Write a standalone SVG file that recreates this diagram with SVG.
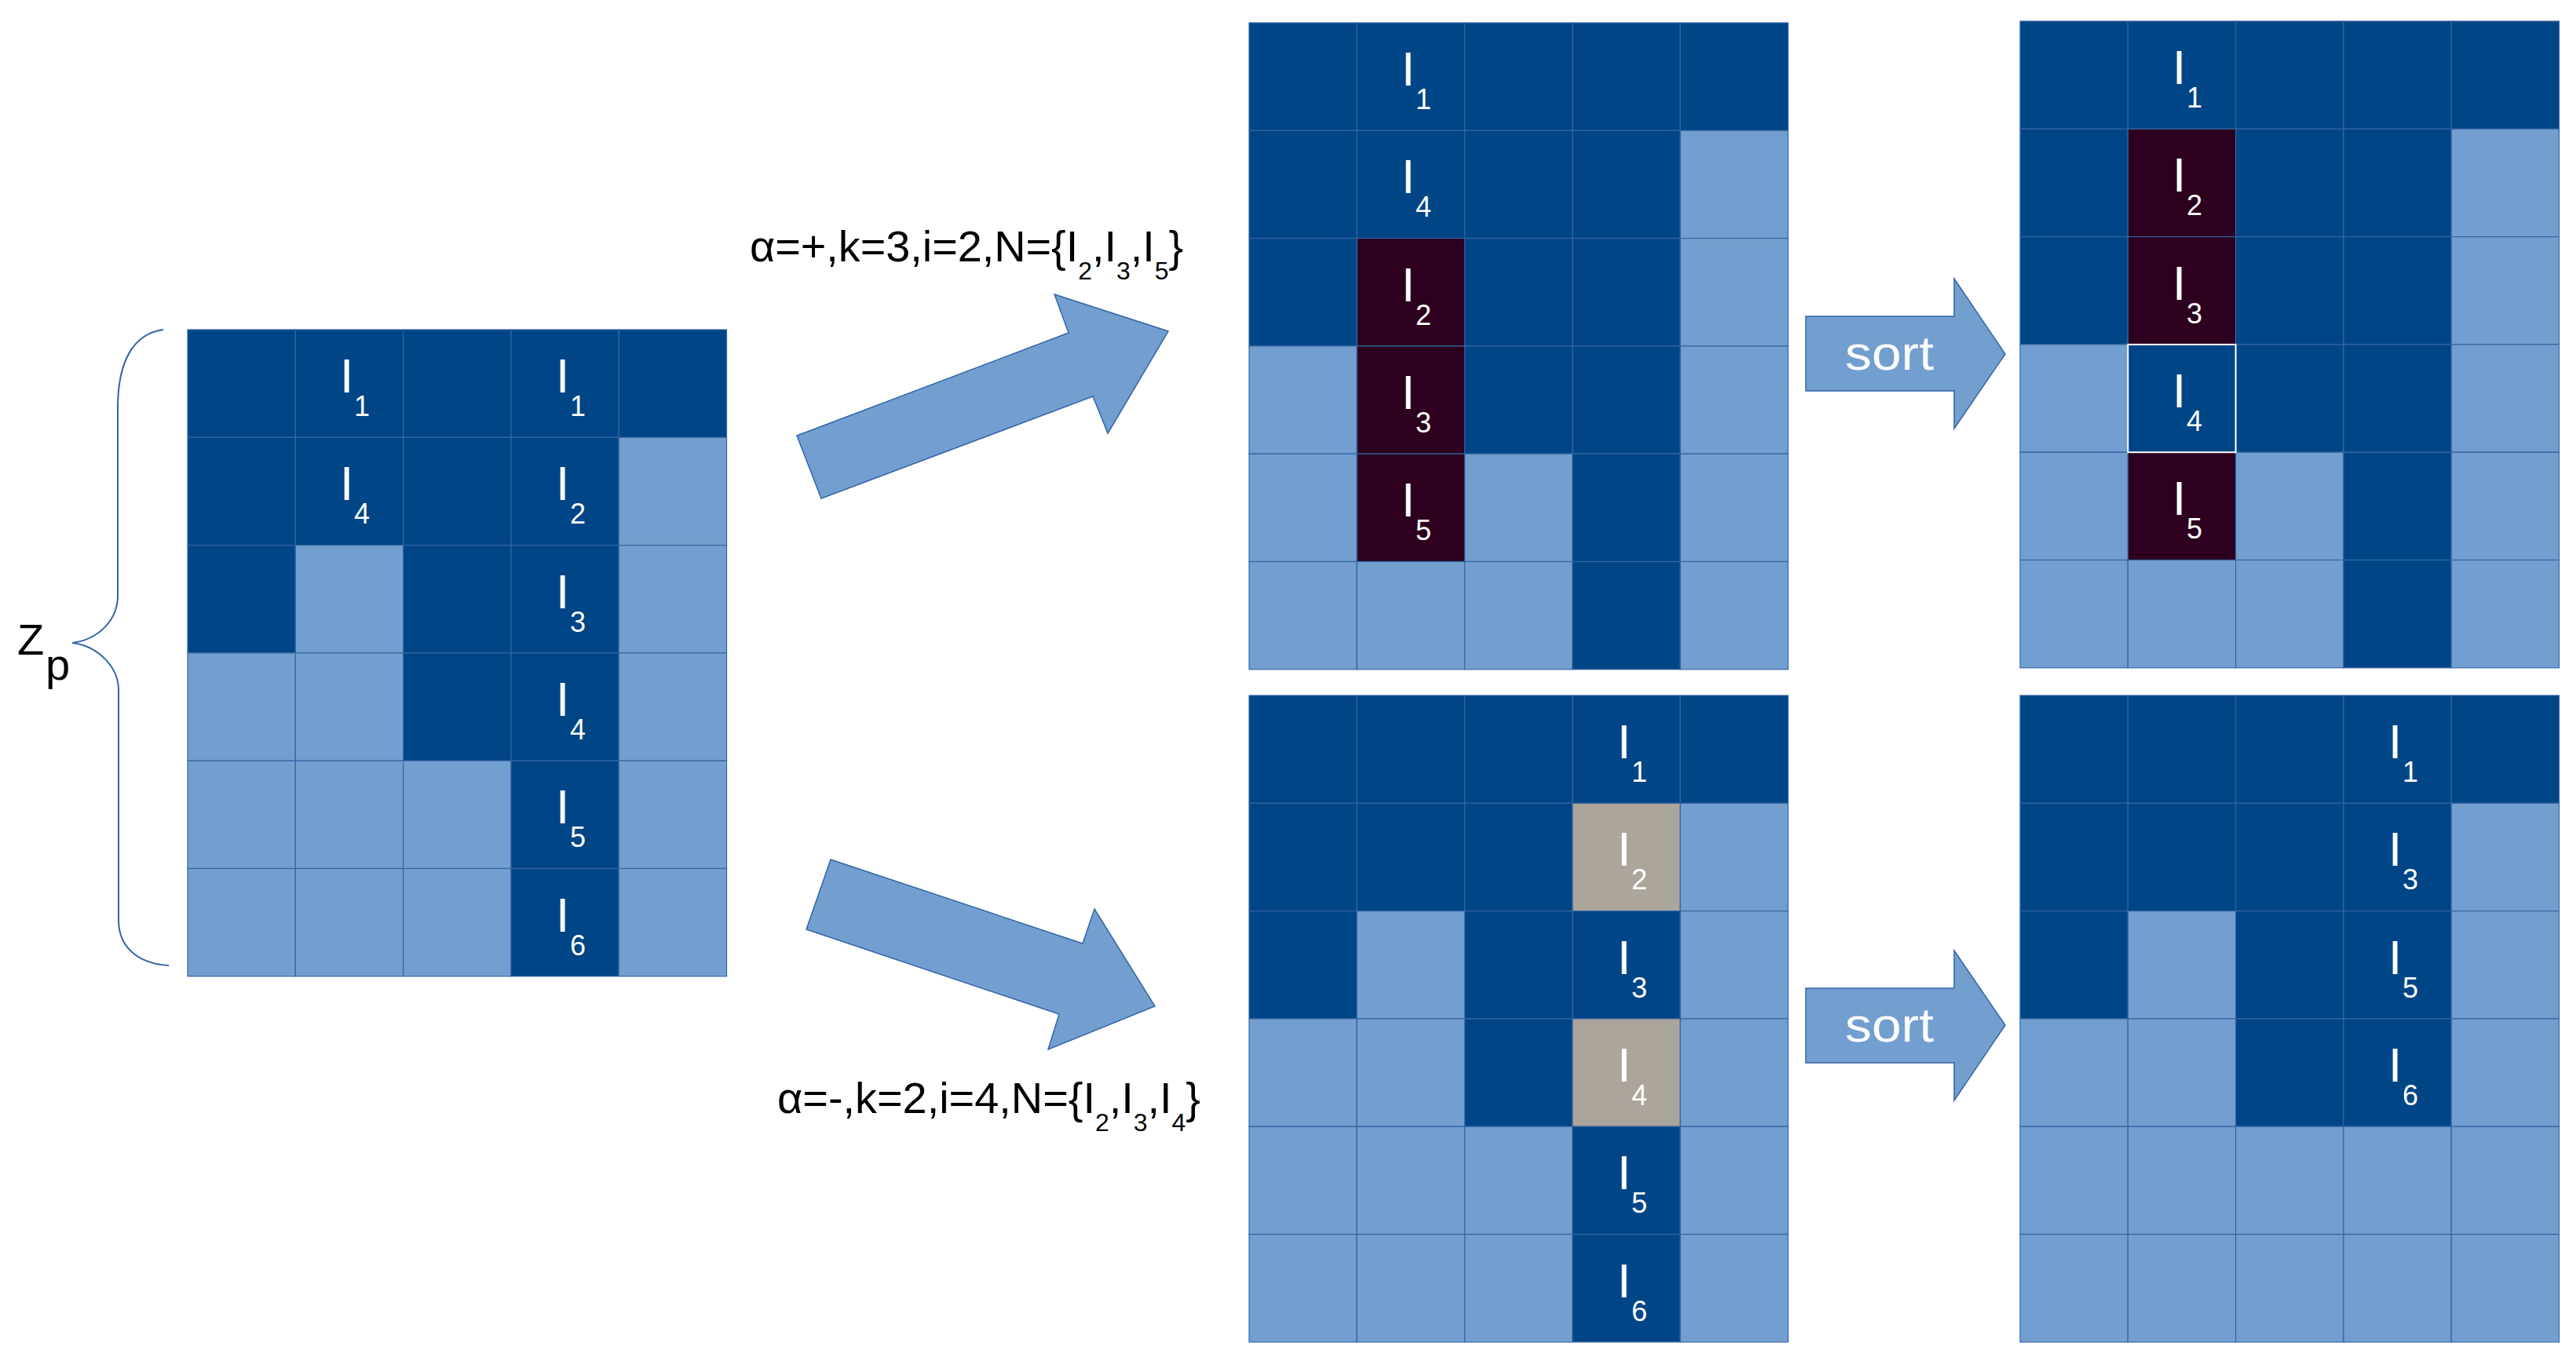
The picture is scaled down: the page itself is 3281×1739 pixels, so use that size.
<svg xmlns="http://www.w3.org/2000/svg" width="3281" height="1739" viewBox="0 0 3281 1739">
<style>
.d{fill:#004586;stroke:#3465a4;stroke-width:1.2}
.l{fill:#729fcf;stroke:#3465a4;stroke-width:1.2}
.m{fill:#2c001e;stroke:#3465a4;stroke-width:1.2}
.g{fill:#aca59c;stroke:#3465a4;stroke-width:1.2}
.lb{font-family:"Liberation Sans",Arial,sans-serif;fill:#fff;font-size:62px}
.sb{font-size:36px}
.ar{fill:#729fcf;stroke:#3465a4;stroke-width:1.5}
.tx{font-family:"Liberation Sans",Arial,sans-serif;fill:#000;font-size:56px}
.ts{font-size:32px}
</style>
<g id="brace">
<path d="M208,420 C170,425 150,460 150,520 L150,759 C150,790 125,815 92,819 C125,823 151,850 151,879 L151,1172 C151,1210 180,1228 215,1230" fill="none" stroke="#3465a4" stroke-width="2"/>
<text class="tx" x="22" y="834" font-size="58">Z</text>
<text class="tx" x="58" y="866" font-size="34">p</text>
</g>
<g id="grid_zp" transform="translate(239,420)">
<rect class="d" x="0" y="0" width="137.3" height="137.3"/><rect class="d" x="137.3" y="0" width="137.3" height="137.3"/><rect class="d" x="274.6" y="0" width="137.3" height="137.3"/><rect class="d" x="411.9" y="0" width="137.3" height="137.3"/><rect class="d" x="549.2" y="0" width="137.3" height="137.3"/>
<rect class="d" x="0" y="137.3" width="137.3" height="137.3"/><rect class="d" x="137.3" y="137.3" width="137.3" height="137.3"/><rect class="d" x="274.6" y="137.3" width="137.3" height="137.3"/><rect class="d" x="411.9" y="137.3" width="137.3" height="137.3"/><rect class="l" x="549.2" y="137.3" width="137.3" height="137.3"/>
<rect class="d" x="0" y="274.6" width="137.3" height="137.3"/><rect class="l" x="137.3" y="274.6" width="137.3" height="137.3"/><rect class="d" x="274.6" y="274.6" width="137.3" height="137.3"/><rect class="d" x="411.9" y="274.6" width="137.3" height="137.3"/><rect class="l" x="549.2" y="274.6" width="137.3" height="137.3"/>
<rect class="l" x="0" y="411.9" width="137.3" height="137.3"/><rect class="l" x="137.3" y="411.9" width="137.3" height="137.3"/><rect class="d" x="274.6" y="411.9" width="137.3" height="137.3"/><rect class="d" x="411.9" y="411.9" width="137.3" height="137.3"/><rect class="l" x="549.2" y="411.9" width="137.3" height="137.3"/>
<rect class="l" x="0" y="549.2" width="137.3" height="137.3"/><rect class="l" x="137.3" y="549.2" width="137.3" height="137.3"/><rect class="l" x="274.6" y="549.2" width="137.3" height="137.3"/><rect class="d" x="411.9" y="549.2" width="137.3" height="137.3"/><rect class="l" x="549.2" y="549.2" width="137.3" height="137.3"/>
<rect class="l" x="0" y="686.5" width="137.3" height="137.3"/><rect class="l" x="137.3" y="686.5" width="137.3" height="137.3"/><rect class="l" x="274.6" y="686.5" width="137.3" height="137.3"/><rect class="d" x="411.9" y="686.5" width="137.3" height="137.3"/><rect class="l" x="549.2" y="686.5" width="137.3" height="137.3"/>
<text class="lb" x="194" y="80">I<tspan class="sb" x="212" y="110">1</tspan></text>
<text class="lb" x="469" y="80">I<tspan class="sb" x="487" y="110">1</tspan></text>
<text class="lb" x="194" y="217">I<tspan class="sb" x="212" y="247">4</tspan></text>
<text class="lb" x="469" y="217">I<tspan class="sb" x="487" y="247">2</tspan></text>
<text class="lb" x="469" y="355">I<tspan class="sb" x="487" y="385">3</tspan></text>
<text class="lb" x="469" y="492">I<tspan class="sb" x="487" y="522">4</tspan></text>
<text class="lb" x="469" y="629">I<tspan class="sb" x="487" y="659">5</tspan></text>
<text class="lb" x="469" y="767">I<tspan class="sb" x="487" y="797">6</tspan></text>
</g>
<g id="grid_top_mid" transform="translate(1591,29)">
<rect class="d" x="0" y="0" width="137.3" height="137.3"/><rect class="d" x="137.3" y="0" width="137.3" height="137.3"/><rect class="d" x="274.6" y="0" width="137.3" height="137.3"/><rect class="d" x="411.9" y="0" width="137.3" height="137.3"/><rect class="d" x="549.2" y="0" width="137.3" height="137.3"/>
<rect class="d" x="0" y="137.3" width="137.3" height="137.3"/><rect class="d" x="137.3" y="137.3" width="137.3" height="137.3"/><rect class="d" x="274.6" y="137.3" width="137.3" height="137.3"/><rect class="d" x="411.9" y="137.3" width="137.3" height="137.3"/><rect class="l" x="549.2" y="137.3" width="137.3" height="137.3"/>
<rect class="d" x="0" y="274.6" width="137.3" height="137.3"/><rect class="m" x="137.3" y="274.6" width="137.3" height="137.3"/><rect class="d" x="274.6" y="274.6" width="137.3" height="137.3"/><rect class="d" x="411.9" y="274.6" width="137.3" height="137.3"/><rect class="l" x="549.2" y="274.6" width="137.3" height="137.3"/>
<rect class="l" x="0" y="411.9" width="137.3" height="137.3"/><rect class="m" x="137.3" y="411.9" width="137.3" height="137.3"/><rect class="d" x="274.6" y="411.9" width="137.3" height="137.3"/><rect class="d" x="411.9" y="411.9" width="137.3" height="137.3"/><rect class="l" x="549.2" y="411.9" width="137.3" height="137.3"/>
<rect class="l" x="0" y="549.2" width="137.3" height="137.3"/><rect class="m" x="137.3" y="549.2" width="137.3" height="137.3"/><rect class="l" x="274.6" y="549.2" width="137.3" height="137.3"/><rect class="d" x="411.9" y="549.2" width="137.3" height="137.3"/><rect class="l" x="549.2" y="549.2" width="137.3" height="137.3"/>
<rect class="l" x="0" y="686.5" width="137.3" height="137.3"/><rect class="l" x="137.3" y="686.5" width="137.3" height="137.3"/><rect class="l" x="274.6" y="686.5" width="137.3" height="137.3"/><rect class="d" x="411.9" y="686.5" width="137.3" height="137.3"/><rect class="l" x="549.2" y="686.5" width="137.3" height="137.3"/>
<text class="lb" x="194" y="80">I<tspan class="sb" x="212" y="110">1</tspan></text>
<text class="lb" x="194" y="217">I<tspan class="sb" x="212" y="247">4</tspan></text>
<text class="lb" x="194" y="355">I<tspan class="sb" x="212" y="385">2</tspan></text>
<text class="lb" x="194" y="492">I<tspan class="sb" x="212" y="522">3</tspan></text>
<text class="lb" x="194" y="629">I<tspan class="sb" x="212" y="659">5</tspan></text>
</g>
<g id="grid_top_right" transform="translate(2573,27)">
<rect class="d" x="0" y="0" width="137.3" height="137.3"/><rect class="d" x="137.3" y="0" width="137.3" height="137.3"/><rect class="d" x="274.6" y="0" width="137.3" height="137.3"/><rect class="d" x="411.9" y="0" width="137.3" height="137.3"/><rect class="d" x="549.2" y="0" width="137.3" height="137.3"/>
<rect class="d" x="0" y="137.3" width="137.3" height="137.3"/><rect class="m" x="137.3" y="137.3" width="137.3" height="137.3"/><rect class="d" x="274.6" y="137.3" width="137.3" height="137.3"/><rect class="d" x="411.9" y="137.3" width="137.3" height="137.3"/><rect class="l" x="549.2" y="137.3" width="137.3" height="137.3"/>
<rect class="d" x="0" y="274.6" width="137.3" height="137.3"/><rect class="m" x="137.3" y="274.6" width="137.3" height="137.3"/><rect class="d" x="274.6" y="274.6" width="137.3" height="137.3"/><rect class="d" x="411.9" y="274.6" width="137.3" height="137.3"/><rect class="l" x="549.2" y="274.6" width="137.3" height="137.3"/>
<rect class="l" x="0" y="411.9" width="137.3" height="137.3"/><rect class="d" x="274.6" y="411.9" width="137.3" height="137.3"/><rect class="d" x="411.9" y="411.9" width="137.3" height="137.3"/><rect class="l" x="549.2" y="411.9" width="137.3" height="137.3"/>
<rect class="l" x="0" y="549.2" width="137.3" height="137.3"/><rect class="m" x="137.3" y="549.2" width="137.3" height="137.3"/><rect class="l" x="274.6" y="549.2" width="137.3" height="137.3"/><rect class="d" x="411.9" y="549.2" width="137.3" height="137.3"/><rect class="l" x="549.2" y="549.2" width="137.3" height="137.3"/>
<rect class="l" x="0" y="686.5" width="137.3" height="137.3"/><rect class="l" x="137.3" y="686.5" width="137.3" height="137.3"/><rect class="l" x="274.6" y="686.5" width="137.3" height="137.3"/><rect class="d" x="411.9" y="686.5" width="137.3" height="137.3"/><rect class="l" x="549.2" y="686.5" width="137.3" height="137.3"/>
<rect x="137.3" y="411.9" width="137.3" height="137.3" fill="#004586" stroke="#fff" stroke-width="2"/>
<text class="lb" x="194" y="80">I<tspan class="sb" x="212" y="110">1</tspan></text>
<text class="lb" x="194" y="217">I<tspan class="sb" x="212" y="247">2</tspan></text>
<text class="lb" x="194" y="355">I<tspan class="sb" x="212" y="385">3</tspan></text>
<text class="lb" x="194" y="492">I<tspan class="sb" x="212" y="522">4</tspan></text>
<text class="lb" x="194" y="629">I<tspan class="sb" x="212" y="659">5</tspan></text>
</g>
<g id="grid_bot_mid" transform="translate(1591,886)">
<rect class="d" x="0" y="0" width="137.3" height="137.3"/><rect class="d" x="137.3" y="0" width="137.3" height="137.3"/><rect class="d" x="274.6" y="0" width="137.3" height="137.3"/><rect class="d" x="411.9" y="0" width="137.3" height="137.3"/><rect class="d" x="549.2" y="0" width="137.3" height="137.3"/>
<rect class="d" x="0" y="137.3" width="137.3" height="137.3"/><rect class="d" x="137.3" y="137.3" width="137.3" height="137.3"/><rect class="d" x="274.6" y="137.3" width="137.3" height="137.3"/><rect class="g" x="411.9" y="137.3" width="137.3" height="137.3"/><rect class="l" x="549.2" y="137.3" width="137.3" height="137.3"/>
<rect class="d" x="0" y="274.6" width="137.3" height="137.3"/><rect class="l" x="137.3" y="274.6" width="137.3" height="137.3"/><rect class="d" x="274.6" y="274.6" width="137.3" height="137.3"/><rect class="d" x="411.9" y="274.6" width="137.3" height="137.3"/><rect class="l" x="549.2" y="274.6" width="137.3" height="137.3"/>
<rect class="l" x="0" y="411.9" width="137.3" height="137.3"/><rect class="l" x="137.3" y="411.9" width="137.3" height="137.3"/><rect class="d" x="274.6" y="411.9" width="137.3" height="137.3"/><rect class="g" x="411.9" y="411.9" width="137.3" height="137.3"/><rect class="l" x="549.2" y="411.9" width="137.3" height="137.3"/>
<rect class="l" x="0" y="549.2" width="137.3" height="137.3"/><rect class="l" x="137.3" y="549.2" width="137.3" height="137.3"/><rect class="l" x="274.6" y="549.2" width="137.3" height="137.3"/><rect class="d" x="411.9" y="549.2" width="137.3" height="137.3"/><rect class="l" x="549.2" y="549.2" width="137.3" height="137.3"/>
<rect class="l" x="0" y="686.5" width="137.3" height="137.3"/><rect class="l" x="137.3" y="686.5" width="137.3" height="137.3"/><rect class="l" x="274.6" y="686.5" width="137.3" height="137.3"/><rect class="d" x="411.9" y="686.5" width="137.3" height="137.3"/><rect class="l" x="549.2" y="686.5" width="137.3" height="137.3"/>
<text class="lb" x="469" y="80">I<tspan class="sb" x="487" y="110">1</tspan></text>
<text class="lb" x="469" y="217">I<tspan class="sb" x="487" y="247">2</tspan></text>
<text class="lb" x="469" y="355">I<tspan class="sb" x="487" y="385">3</tspan></text>
<text class="lb" x="469" y="492">I<tspan class="sb" x="487" y="522">4</tspan></text>
<text class="lb" x="469" y="629">I<tspan class="sb" x="487" y="659">5</tspan></text>
<text class="lb" x="469" y="767">I<tspan class="sb" x="487" y="797">6</tspan></text>
</g>
<g id="grid_bot_right" transform="translate(2573,886)">
<rect class="d" x="0" y="0" width="137.3" height="137.3"/><rect class="d" x="137.3" y="0" width="137.3" height="137.3"/><rect class="d" x="274.6" y="0" width="137.3" height="137.3"/><rect class="d" x="411.9" y="0" width="137.3" height="137.3"/><rect class="d" x="549.2" y="0" width="137.3" height="137.3"/>
<rect class="d" x="0" y="137.3" width="137.3" height="137.3"/><rect class="d" x="137.3" y="137.3" width="137.3" height="137.3"/><rect class="d" x="274.6" y="137.3" width="137.3" height="137.3"/><rect class="d" x="411.9" y="137.3" width="137.3" height="137.3"/><rect class="l" x="549.2" y="137.3" width="137.3" height="137.3"/>
<rect class="d" x="0" y="274.6" width="137.3" height="137.3"/><rect class="l" x="137.3" y="274.6" width="137.3" height="137.3"/><rect class="d" x="274.6" y="274.6" width="137.3" height="137.3"/><rect class="d" x="411.9" y="274.6" width="137.3" height="137.3"/><rect class="l" x="549.2" y="274.6" width="137.3" height="137.3"/>
<rect class="l" x="0" y="411.9" width="137.3" height="137.3"/><rect class="l" x="137.3" y="411.9" width="137.3" height="137.3"/><rect class="d" x="274.6" y="411.9" width="137.3" height="137.3"/><rect class="d" x="411.9" y="411.9" width="137.3" height="137.3"/><rect class="l" x="549.2" y="411.9" width="137.3" height="137.3"/>
<rect class="l" x="0" y="549.2" width="137.3" height="137.3"/><rect class="l" x="137.3" y="549.2" width="137.3" height="137.3"/><rect class="l" x="274.6" y="549.2" width="137.3" height="137.3"/><rect class="l" x="411.9" y="549.2" width="137.3" height="137.3"/><rect class="l" x="549.2" y="549.2" width="137.3" height="137.3"/>
<rect class="l" x="0" y="686.5" width="137.3" height="137.3"/><rect class="l" x="137.3" y="686.5" width="137.3" height="137.3"/><rect class="l" x="274.6" y="686.5" width="137.3" height="137.3"/><rect class="l" x="411.9" y="686.5" width="137.3" height="137.3"/><rect class="l" x="549.2" y="686.5" width="137.3" height="137.3"/>
<text class="lb" x="469" y="80">I<tspan class="sb" x="487" y="110">1</tspan></text>
<text class="lb" x="469" y="217">I<tspan class="sb" x="487" y="247">3</tspan></text>
<text class="lb" x="469" y="355">I<tspan class="sb" x="487" y="385">5</tspan></text>
<text class="lb" x="469" y="492">I<tspan class="sb" x="487" y="522">6</tspan></text>
</g>
<g id="connectors">
<polygon class="ar" points="1015,555 1361,424 1343,375 1488,422 1411,552 1392,505 1046,635"/>
<polygon class="ar" points="1058,1095 1379,1202 1394,1158 1471,1282 1335,1337 1349,1292 1027,1184"/>
<polygon class="ar" points="2300,403 2489,403 2489,355 2554,451 2489,546 2489,498 2300,498"/>
<polygon class="ar" points="2300,1259 2489,1259 2489,1211 2554,1306 2489,1402 2489,1354 2300,1354"/>
<text class="lb" x="2350" y="471" font-size="68" textLength="113" lengthAdjust="spacingAndGlyphs">sort</text>
<text class="lb" x="2350" y="1327" font-size="68" textLength="113" lengthAdjust="spacingAndGlyphs">sort</text>
</g>
<g id="labels">
<text class="tx" x="955" y="333" textLength="552" lengthAdjust="spacingAndGlyphs">α=+,k=3,i=2,N={I<tspan class="ts" y="356">2</tspan><tspan y="333">,I</tspan><tspan class="ts" y="356">3</tspan><tspan y="333">,I</tspan><tspan class="ts" y="356">5</tspan><tspan y="333">}</tspan></text>
<text class="tx" x="990" y="1418" textLength="539" lengthAdjust="spacingAndGlyphs">α=-,k=2,i=4,N={I<tspan class="ts" y="1441">2</tspan><tspan y="1418">,I</tspan><tspan class="ts" y="1441">3</tspan><tspan y="1418">,I</tspan><tspan class="ts" y="1441">4</tspan><tspan y="1418">}</tspan></text>
</g>
</svg>
